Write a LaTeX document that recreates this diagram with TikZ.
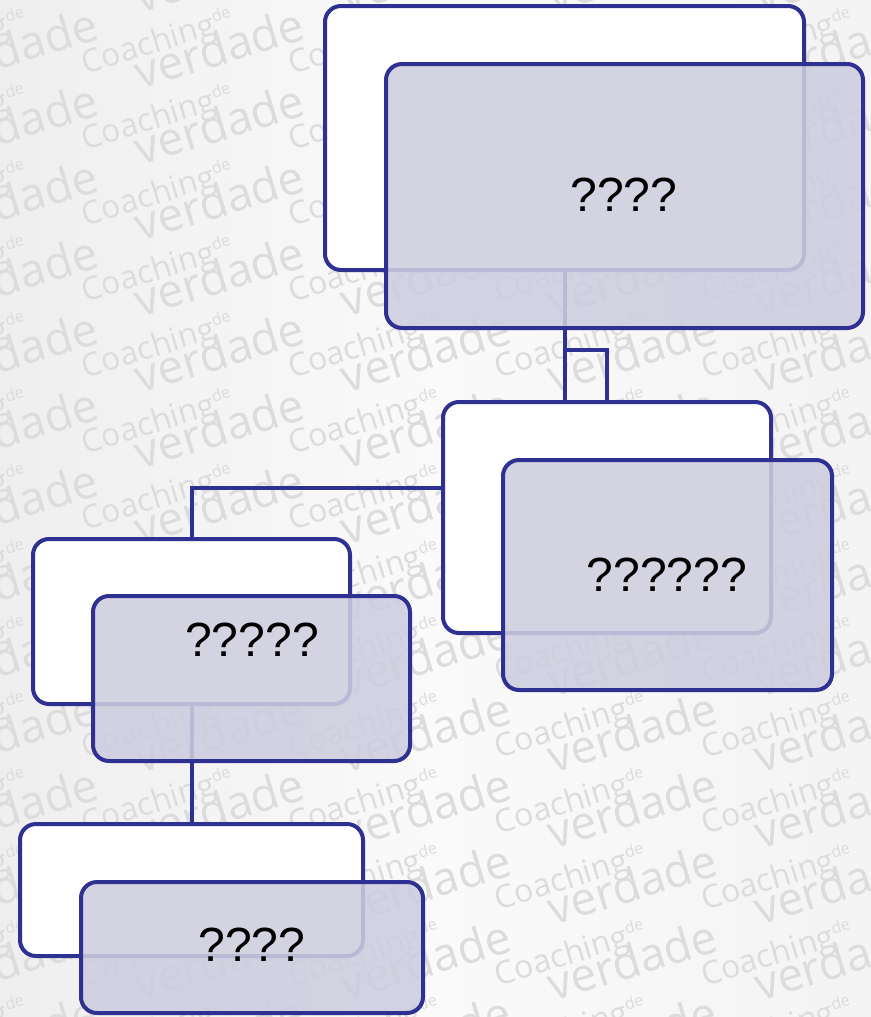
\documentclass[tikz,border=0pt]{standalone}
\usepackage{fontspec}
\setmainfont{Liberation Sans}
\newfontfamily\markfont{Open Sans}
\definecolor{BoxNavy}{HTML}{2E3192}
\definecolor{BoxLilac}{RGB}{205,205,223}
\definecolor{MarkGrey}{HTML}{DCDCDC}

\begin{document}
\begin{tikzpicture}[x=0.5pt, y=-0.5pt,
  backbox/.style={draw=BoxNavy, line width=2pt, rounded corners=8pt, fill=white, inner sep=0pt, outer sep=0pt},
  frontbox/.style={backbox, fill=BoxLilac, fill opacity=0.88},
  link/.style={draw=BoxNavy, line width=2pt},
  qtext/.style={font=\fontsize{24}{28}\selectfont, text=black},
  wmark/.style={rotate=17, text=MarkGrey, align=left, inner sep=0pt, font=\markfont}]
  % Background
  \fill[left color=gray!13, right color=gray!9, middle color=gray!4] (0,0) rectangle (871,1017);
  \useasboundingbox (0,0) rectangle (871,1017);
  % Watermark
  \begin{scope}
    \clip (0,0) rectangle (871,1017);
    \foreach \i in {-1,...,4}
      \foreach \j in {-1,...,14}
        \node[wmark] (wm-\i-\j) at (193+206.5*\i, 45+76*\j)
          {{\fontsize{16}{16}\selectfont Coaching\raisebox{6pt}{\fontsize{8}{8}\selectfont de}}\\[-7pt]
           \hspace*{24pt}{\fontsize{23}{22}\selectfont verdade}};
  \end{scope}
  % Back boxes
  \node[backbox, minimum width=239.5pt, minimum height=132pt] (topback) at (564.5,138) {};
  \node[backbox, minimum width=164pt, minimum height=115.5pt] (midback) at (607,517.5) {};
  \node[backbox, minimum width=158.5pt, minimum height=82.5pt] (leftback) at (191.5,621.5) {};
  \node[backbox, minimum width=171.5pt, minimum height=66pt] (botback) at (191.5,890) {};
  % Connectors
  \coordinate (topjoint) at (564.5,350);
  \draw[link] (topback.south) -- (topback.south |- midback.north);
  \draw[link] (topjoint) -| (midback.north);
  \draw[link] ([yshift=15pt]midback.west) -| (leftback.north);
  \draw[link] (leftback.south) -- (botback.north);
  % Front boxes
  \node[frontbox, minimum width=238.5pt, minimum height=132pt] (topfront) at (624.5,196) {};
  \node[frontbox, minimum width=164.5pt, minimum height=115pt] (midfront) at (667.5,575) {};
  \node[frontbox, minimum width=158.5pt, minimum height=82.5pt] (leftfront) at (251.5,678.5) {};
  \node[frontbox, minimum width=171pt, minimum height=65.5pt] (botfront) at (252,947.5) {};
  % Labels
  \node[qtext] (toptxt) at (624,195) {????};
  \node[qtext] (midtxt) at (667,575) {??????};
  \node[qtext] (lefttxt) at (252,640) {?????};
  \node[qtext] (bottxt) at (252,945) {????};
\end{tikzpicture}
\end{document}
